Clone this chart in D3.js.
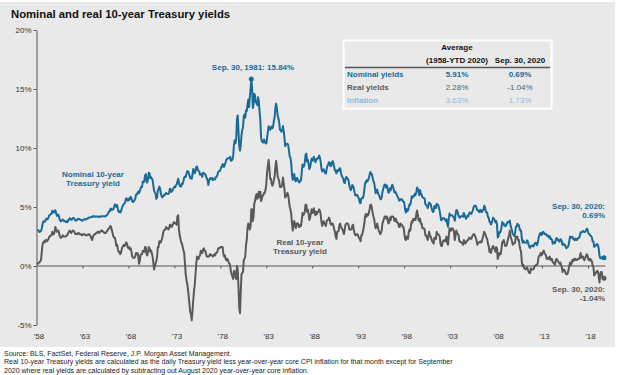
<!DOCTYPE html>
<html>
<head>
<meta charset="utf-8">
<script src="https://cdn.jsdelivr.net/npm/d3@7"></script>
<style>
  body { margin: 0; background: #fff; font-family: Arial, "Liberation Sans", sans-serif; }
</style>
</head>
<body>
<svg id="chart" width="624" height="375"></svg>
<script>
// monthly 10-year yields, Jan 1958 .. Sep 2020
const startYear = 1958;
const nominal = [
  3.09,3.05,2.98,2.88,2.92,2.97,3.20,3.54,3.76,3.80,3.74,3.86, // 1958
  4.02,3.96,3.99,4.12,4.31,4.34,4.40,4.43,4.68,4.53,4.53,4.69, // 1959
  4.72,4.49,4.25,4.28,4.35,4.15,3.90,3.80,3.80,3.89,3.93,3.84, // 1960
  3.84,3.78,3.74,3.78,3.71,3.88,3.92,4.04,3.98,3.92,3.94,4.06, // 1961
  4.08,4.04,3.93,3.84,3.87,3.91,4.01,3.98,3.98,3.93,3.92,3.86, // 1962
  3.83,3.92,3.93,3.97,3.93,3.99,4.02,4.00,4.08,4.11,4.12,4.13, // 1963
  4.17,4.15,4.22,4.23,4.20,4.17,4.19,4.19,4.20,4.19,4.15,4.18, // 1964
  4.19,4.21,4.21,4.20,4.21,4.21,4.20,4.25,4.29,4.35,4.45,4.62, // 1965
  4.61,4.83,4.87,4.75,4.78,4.81,5.02,5.22,5.18,5.01,5.16,4.84, // 1966
  4.58,4.63,4.54,4.59,4.85,5.02,5.16,5.28,5.30,5.48,5.75,5.70, // 1967
  5.53,5.56,5.74,5.64,5.87,5.72,5.50,5.42,5.46,5.58,5.70,6.03, // 1968
  6.04,6.19,6.30,6.17,6.32,6.57,6.72,6.69,7.16,7.10,7.14,7.65, // 1969
  7.79,7.24,7.07,7.39,7.91,7.84,7.46,7.53,7.39,7.33,6.84,6.39, // 1970
  6.24,6.11,5.70,5.83,6.39,6.52,6.73,6.58,6.14,5.93,5.81,5.93, // 1971
  5.95,6.08,6.07,6.19,6.13,6.11,6.11,6.21,6.55,6.48,6.28,6.36, // 1972
  6.46,6.64,6.71,6.67,6.85,6.90,7.13,7.40,7.09,6.79,6.73,6.74, // 1973
  6.99,6.96,7.21,7.51,7.58,7.54,7.81,8.04,8.04,7.90,7.68,7.43, // 1974
  7.50,7.39,7.73,8.23,8.06,7.86,8.06,8.40,8.43,8.14,8.05,8.00, // 1975
  7.74,7.79,7.73,7.56,7.90,7.86,7.83,7.77,7.59,7.41,7.29,6.87, // 1976
  7.21,7.39,7.46,7.37,7.46,7.28,7.33,7.40,7.34,7.52,7.58,7.69, // 1977
  7.96,8.03,8.04,8.15,8.35,8.46,8.64,8.41,8.42,8.64,8.81,9.01, // 1978
  9.10,9.10,9.12,9.18,9.25,8.91,8.95,9.03,9.33,10.30,10.65,10.39, // 1979
  10.80,12.41,12.75,11.47,10.18,9.78,10.25,11.10,11.51,11.75,12.68,12.84, // 1980
  12.57,13.19,13.12,13.68,14.10,13.47,14.28,14.94,15.84,15.15,13.39,13.72, // 1981
  14.59,14.43,13.86,13.87,13.62,14.30,13.95,13.06,12.34,10.91,10.55,10.54, // 1982
  10.46,10.72,10.51,10.40,10.38,10.85,11.38,11.85,11.65,11.54,11.69,11.83, // 1983
  11.67,11.84,12.32,12.63,13.41,13.76,13.36,12.72,12.52,12.16,11.57,11.50, // 1984
  11.38,11.51,11.86,11.43,10.85,10.16,10.31,10.33,10.37,10.24,9.78,9.26, // 1985
  9.19,8.70,7.78,7.30,7.71,7.80,7.30,7.17,7.45,7.43,7.25,7.11, // 1986
  7.08,7.25,7.25,8.02,8.61,8.40,8.45,8.76,9.42,9.52,8.86,8.99, // 1987
  8.67,8.21,8.37,8.72,9.09,8.92,9.06,9.26,8.98,8.80,8.96,9.11, // 1988
  9.09,9.17,9.36,9.18,8.86,8.28,8.02,8.11,8.19,8.01,7.87,7.84, // 1989
  8.21,8.47,8.59,8.79,8.76,8.48,8.47,8.75,8.89,8.72,8.39,8.08, // 1990
  8.09,7.85,8.11,8.04,8.07,8.28,8.27,7.90,7.65,7.53,7.42,7.09, // 1991
  7.03,7.34,7.54,7.48,7.39,7.26,6.84,6.59,6.42,6.59,6.87,6.77, // 1992
  6.60,6.26,5.98,5.97,6.04,5.96,5.81,5.68,5.36,5.33,5.72,5.77, // 1993
  5.75,5.97,6.48,6.97,7.18,7.10,7.30,7.24,7.46,7.74,7.96,7.81, // 1994
  7.78,7.47,7.20,7.06,6.63,6.17,6.28,6.49,6.20,6.04,5.93,5.71, // 1995
  5.65,5.81,6.27,6.51,6.74,6.91,6.87,6.64,6.83,6.53,6.20,6.30, // 1996
  6.58,6.42,6.69,6.89,6.71,6.49,6.22,6.30,6.21,6.03,5.88,5.81, // 1997
  5.54,5.57,5.65,5.64,5.65,5.50,5.46,5.34,4.81,4.53,4.83,4.65, // 1998
  4.72,5.00,5.23,5.18,5.54,5.90,5.79,5.94,5.92,6.11,6.03,6.28, // 1999
  6.66,6.52,6.26,5.99,6.44,6.10,6.05,5.83,5.80,5.74,5.72,5.24, // 2000
  5.16,5.10,4.89,5.14,5.39,5.28,5.24,4.97,4.73,4.57,4.65,5.09, // 2001
  5.04,4.91,5.28,5.21,5.16,4.93,4.65,4.26,3.87,3.94,4.05,4.03, // 2002
  4.05,3.90,3.81,3.96,3.57,3.33,3.98,4.45,4.27,4.29,4.30,4.27, // 2003
  4.15,4.08,3.83,4.35,4.72,4.73,4.50,4.28,4.13,4.10,4.19,4.23, // 2004
  4.22,4.17,4.50,4.34,4.14,4.00,4.18,4.26,4.20,4.46,4.54,4.47, // 2005
  4.42,4.57,4.72,4.99,5.11,5.11,5.09,4.88,4.72,4.73,4.60,4.56, // 2006
  4.76,4.72,4.56,4.69,4.75,5.10,5.00,4.67,4.52,4.53,4.15,4.10, // 2007
  3.74,3.74,3.51,3.68,3.88,4.10,4.01,3.89,3.69,3.81,3.53,2.42, // 2008
  2.52,2.87,2.82,2.93,3.29,3.72,3.56,3.59,3.40,3.39,3.40,3.59, // 2009
  3.73,3.69,3.73,3.85,3.42,3.20,3.01,2.70,2.65,2.54,2.76,3.29, // 2010
  3.39,3.58,3.41,3.46,3.17,3.00,3.00,2.30,1.98,2.15,2.01,1.98, // 2011
  1.97,1.97,2.17,2.05,1.80,1.62,1.53,1.68,1.72,1.75,1.65,1.72, // 2012
  1.91,1.98,1.96,1.76,1.93,2.30,2.58,2.74,2.81,2.62,2.72,2.90, // 2013
  2.86,2.71,2.72,2.71,2.56,2.60,2.54,2.42,2.53,2.30,2.33,2.21, // 2014
  1.88,1.98,2.04,1.94,2.20,2.36,2.32,2.17,2.17,2.07,2.26,2.24, // 2015
  2.09,1.78,1.89,1.81,1.81,1.64,1.50,1.56,1.63,1.76,2.14,2.49, // 2016
  2.43,2.42,2.48,2.30,2.30,2.19,2.32,2.21,2.20,2.36,2.35,2.40, // 2017
  2.58,2.86,2.84,2.87,2.98,2.91,2.89,2.89,3.00,3.15,3.12,2.83, // 2018
  2.71,2.68,2.57,2.53,2.40,2.07,2.06,1.63,1.70,1.71,1.81,1.86, // 2019
  1.76,1.50,0.87,0.66,0.67,0.73,0.62,0.65,0.69                 // 2020
];
const real = [
  0.3,0.2,0.3,0.3,0.4,0.5,1.2,1.8,2.0,2.1,2.0,2.2, // 1958
  2.2,2.1,2.2,2.3,2.5,2.5,2.6,2.6,2.9,2.7,2.7,2.9, // 1959
  3.3,3.1,2.9,2.9,3.0,2.8,2.5,2.4,2.4,2.5,2.6,2.5, // 1960
  2.5,2.5,2.5,2.6,2.6,2.8,2.9,3.0,2.9,2.8,2.9,3.0, // 1961
  3.0,2.9,2.8,2.7,2.7,2.7,2.8,2.8,2.7,2.7,2.7,2.6, // 1962
  2.6,2.7,2.7,2.7,2.6,2.6,2.6,2.6,2.7,2.7,2.6,2.5, // 1963
  2.3,2.2,2.5,2.6,2.7,2.7,2.8,2.8,2.9,2.9,2.8,2.9, // 1964
  2.9,3.0,3.0,2.9,2.9,2.8,2.8,2.8,2.9,3.0,3.1,3.2, // 1965
  3.2,3.4,3.3,3.0,2.8,2.5,2.4,2.4,2.1,1.7,1.8,1.4, // 1966
  1.2,1.2,1.0,1.1,1.4,1.6,1.7,1.8,1.7,1.8,2.0,1.9, // 1967
  1.6,1.5,1.6,1.4,1.5,1.2,0.8,0.7,0.7,0.7,0.8,1.1, // 1968
  1.0,1.1,0.9,0.2,0.4,0.9,1.0,1.0,1.3,1.2,1.2,1.6, // 1969
  1.6,1.0,0.9,1.2,1.6,1.5,1.2,1.3,1.1,0.8,0.3,-0.3, // 1970
  0.0,0.2,0.4,0.8,1.6,1.6,2.1,2.1,2.0,2.2,2.4,2.8, // 1971
  3.0,3.1,3.1,3.3,3.2,3.2,3.1,3.2,3.5,3.5,3.3,3.4, // 1972
  3.5,3.7,3.7,3.6,3.6,3.5,4.2,4.3,3.1,2.6,2.3,2.0, // 1973
  1.9,1.6,1.3,1.1,0.2,-0.7,-1.2,-1.5,-2.0,-2.6,-3.3,-3.9, // 1974
  -4.1,-4.6,-3.8,-2.9,-2.1,-1.6,-0.7,0.2,0.8,0.7,0.6,0.8, // 1975
  0.9,1.3,1.1,1.1,1.4,1.5,1.3,1.3,1.0,0.8,0.8,0.8, // 1976
  0.8,1.0,1.0,0.9,0.9,0.8,0.9,1.0,0.9,1.1,1.1,1.2, // 1977
  1.5,1.5,1.5,1.6,1.6,1.6,1.6,1.0,0.8,0.9,0.6,0.5, // 1978
  0.6,0.5,0.3,0.2,0.0,-0.5,-0.7,-0.9,-1.1,-0.4,-0.5,-0.9, // 1979
  -1.1,0.0,-0.3,-1.8,-3.5,-4.0,-2.2,-0.7,-0.6,-0.5,0.5,0.6, // 1980
  0.8,1.8,2.2,3.2,3.6,3.5,3.1,3.3,4.8,4.8,3.8,4.2, // 1981
  5.3,5.5,5.9,6.1,5.7,5.9,6.3,5.8,6.3,5.5,5.7,6.0, // 1982
  6.0,6.2,6.2,6.5,7.0,8.0,8.5,9.0,8.3,7.4,7.4,7.0, // 1983
  6.8,7.0,7.3,7.6,8.4,8.9,8.3,7.6,7.4,7.2,6.7,6.7, // 1984
  6.7,6.9,7.5,7.0,6.5,5.8,5.9,6.0,6.2,6.0,5.5,5.0, // 1985
  4.8,4.4,3.6,3.0,3.7,3.8,3.4,3.2,3.6,3.6,3.6,3.3, // 1986
  3.3,3.5,3.4,3.9,4.5,4.3,4.4,4.6,5.2,5.2,4.6,4.8, // 1987
  4.4,3.9,4.1,4.4,4.8,4.5,4.6,4.9,4.5,4.3,4.6,4.4, // 1988
  4.6,4.6,4.8,4.7,4.4,3.8,3.4,3.6,3.8,3.6,3.5,3.4, // 1989
  3.8,3.9,3.9,4.1,4.0,3.6,3.5,3.6,3.6,3.4,3.1,2.9, // 1990
  2.5,2.3,2.9,2.9,3.0,3.5,3.6,3.3,3.2,3.1,2.9,2.7, // 1991
  3.1,3.5,3.6,3.6,3.6,3.5,3.1,3.1,3.1,3.1,3.4,3.5, // 1992
  3.1,2.8,2.6,2.6,2.7,2.7,2.5,2.4,2.3,2.1,2.6,2.6, // 1993
  2.9,3.2,3.6,4.2,4.4,4.2,4.4,4.3,4.5,4.8,5.2,5.2, // 1994
  4.9,4.5,4.2,4.0,3.5,3.2,3.3,3.6,3.3,3.0,2.9,2.7, // 1995
  2.8,3.0,3.6,3.8,4.0,4.2,4.2,4.0,4.2,3.9,3.6,3.7, // 1996
  4.1,3.9,4.2,4.2,4.2,4.1,3.8,4.0,4.0,3.7,3.7,3.6, // 1997
  3.3,3.3,3.6,3.5,3.5,3.3,3.3,2.8,2.3,2.2,2.5,2.3, // 1998
  2.3,2.9,3.1,3.0,3.5,3.8,3.7,4.0,3.9,4.0,3.9,4.4, // 1999
  4.7,4.3,3.9,3.8,4.0,3.6,3.6,3.2,3.2,3.2,3.1,2.6, // 2000
  2.6,2.4,2.2,2.5,2.9,2.6,2.5,2.3,2.1,2.0,1.9,2.4, // 2001
  2.4,2.3,2.9,2.7,2.7,2.6,2.5,1.9,1.7,1.7,2.1,2.1, // 2002
  2.2,2.1,2.1,2.5,2.0,1.8,2.5,3.2,3.1,3.0,3.2,3.2, // 2003
  3.1,2.9,2.2,2.6,3.0,2.8,2.7,2.6,2.1,2.1,2.0,2.0, // 2004
  1.9,1.8,2.2,2.1,1.9,2.0,2.1,2.2,2.2,2.4,2.4,2.3, // 2005
  2.3,2.5,2.6,2.7,2.7,2.5,2.4,2.1,1.8,2.0,2.0,2.0, // 2006
  2.1,2.0,2.1,2.4,2.6,2.9,2.8,2.6,2.4,2.3,1.9,1.7, // 2007
  1.2,1.4,1.1,1.4,1.6,1.7,1.5,1.4,1.2,1.6,1.5,0.6, // 2008
  0.8,1.1,1.0,1.0,1.5,2.0,2.1,2.2,1.9,1.7,1.7,1.8, // 2009
  2.1,2.4,2.6,3.0,2.5,2.3,2.1,1.8,1.9,1.9,2.0,2.5, // 2010
  2.4,2.5,2.2,2.2,1.7,1.4,1.2,0.3,0.0,0.1,-0.2,-0.2, // 2011
  -0.3,-0.2,-0.1,-0.3,-0.5,-0.6,-0.6,-0.2,-0.3,-0.3,-0.3,-0.2, // 2012
  0.0,0.0,0.1,0.1,0.2,0.7,0.9,0.9,1.1,0.9,1.0,1.2, // 2013
  1.3,1.1,1.0,0.9,0.6,0.7,0.6,0.7,0.8,0.5,0.6,0.6, // 2014
  0.3,0.3,0.2,0.1,0.5,0.6,0.5,0.4,0.3,0.2,0.3,0.1, // 2015
  -0.1,-0.5,-0.3,-0.3,-0.4,-0.6,-0.7,-0.7,-0.6,-0.3,0.0,0.3, // 2016
  0.1,0.2,0.5,0.4,0.6,0.5,0.6,0.5,0.5,0.6,0.6,0.6, // 2017
  0.8,1.1,0.7,0.8,0.8,0.6,0.5,0.7,0.8,1.0,0.9,0.6, // 2018
  0.5,0.6,0.6,0.4,0.4,0.0,-0.1,-0.8,-0.7,-0.6,-0.5,-0.4, // 2019
  -0.5,-0.9,-1.4,-0.7,-0.5,-0.5,-1.0,-1.0,-1.04            // 2020
];

const yTicks = [-5, 0, 5, 10, 15, 20];
const xTickYears = [1958, 1963, 1968, 1973, 1978, 1983, 1988, 1993, 1998, 2003, 2008, 2013, 2018];
const xLabels = ["'58", "'63", "'68", "'73", "'78", "'83", "'88", "'93", "'98", "'03", "'08", "'13", "'18"];

const tableHead = ["Average", "(1958-YTD 2020)", "Sep. 30, 2020"];
const tableRows = ["Nominal yields", "Real yields", "Inflation"];
const avgValues = ["5.91%", "2.28%", "3.63%"];
const sepValues = ["0.69%", "-1.04%", "1.73%"];

const blue = "#1a6a98", grey = "#595959", lightBlue = "#8db9dc";

let svg = d3.select("#chart");

svg.append("rect")
   .attr("x", 0).attr("y", 2)
   .attr("width", 615).attr("height", 345)
   .attr("fill", "#e9e9e9");

let x = d3.scaleLinear().domain([1958, 2020.75]).range([36.5, 604]);   // data
let xTick = d3.scaleLinear().domain([1958, 2018]).range([36.5, 588]);  // axis ticks and labels
let y = d3.scaleLinear().domain([-5, 20]).range([325, 30]);

let monthTime = i => startYear + (i + 1) / 12;

// title
svg.append("text")
   .attr("x", 11).attr("y", 18)
   .attr("font-size", 11.3).attr("font-weight", "bold").attr("fill", "#111")
   .text("Nominal and real 10-year Treasury yields");

// y axis
let yAxis = svg.append("g")
   .attr("transform", "translate(36.5,0)")
   .call(d3.axisLeft(y).tickValues(yTicks).tickSize(3).tickSizeOuter(0).tickPadding(2)
           .tickFormat(d => d + "%"));
yAxis.select(".domain").attr("stroke", "#555");
yAxis.selectAll(".tick line").attr("stroke", "#555");
yAxis.selectAll("text").attr("font-size", 8).attr("fill", "#333")
     .attr("font-family", "Arial, 'Liberation Sans', sans-serif");

// zero line with year ticks
svg.append("line")
   .attr("x1", x(1958)).attr("x2", 605.5)
   .attr("y1", y(0)).attr("y2", y(0))
   .attr("stroke", "#555").attr("stroke-width", 1);
let zeroAxis = svg.append("g")
   .attr("transform", "translate(0," + y(0) + ")")
   .call(d3.axisBottom(xTick).tickValues(xTickYears.slice(1)).tickSize(2.5).tickFormat(""));
zeroAxis.select(".domain").remove();
zeroAxis.selectAll(".tick line").attr("stroke", "#555");

// year labels along the bottom
let xAxis = svg.append("g")
   .attr("transform", "translate(2,332)")
   .call(d3.axisBottom(xTick).tickValues(xTickYears).tickSize(0).tickPadding(1)
           .tickFormat((d, i) => xLabels[i]));
xAxis.select(".domain").remove();
xAxis.selectAll("text").attr("font-size", 8).attr("fill", "#333")
     .attr("font-family", "Arial, 'Liberation Sans', sans-serif");

// lines
let line = d3.line()
   .x((d, i) => x(monthTime(i)))
   .y(d => y(d));

svg.append("path")
   .attr("d", line(real))
   .attr("fill", "none").attr("stroke", grey)
   .attr("stroke-width", 2).attr("stroke-linejoin", "round");
svg.append("path")
   .attr("d", line(nominal))
   .attr("fill", "none").attr("stroke", blue)
   .attr("stroke-width", 2).attr("stroke-linejoin", "round");

// markers
let peakIdx = nominal.indexOf(d3.max(nominal));
let last = nominal.length - 1;
svg.append("circle").attr("cx", x(monthTime(peakIdx))).attr("cy", y(nominal[peakIdx]))
   .attr("r", 2.5).attr("fill", blue);
svg.append("circle").attr("cx", x(monthTime(last))).attr("cy", y(nominal[last]))
   .attr("r", 2.5).attr("fill", blue);
svg.append("circle").attr("cx", x(monthTime(last))).attr("cy", y(real[last]))
   .attr("r", 2.5).attr("fill", grey);

// annotations
function label(lines, px, py, anchor, color) {
  let t = svg.append("text")
     .attr("x", px).attr("y", py)
     .attr("text-anchor", anchor)
     .attr("font-size", 8).attr("font-weight", "bold").attr("fill", color);
  lines.forEach((s, i) => {
    t.append("tspan").attr("x", px).attr("dy", i === 0 ? 0 : 9.3).text(s);
  });
}
label(["Sep. 30, 1981: 15.84%"], 253, 70, "middle", blue);
label(["Nominal 10-year", "Treasury yield"], 93, 177, "middle", blue);
label(["Real 10-year", "Treasury yield"], 300, 245, "middle", grey);
label(["Sep. 30, 2020:", "0.69%"], 605, 209, "end", blue);
label(["Sep. 30, 2020:", "-1.04%"], 605, 292, "end", grey);

// summary table
let table = svg.append("g");
table.append("rect")
   .attr("x", 343.5).attr("y", 40.5).attr("width", 208).attr("height", 68)
   .attr("fill", "#e9e9e9").attr("stroke", "#fff").attr("stroke-width", 2);
table.append("text").attr("x", 457).attr("y", 50).attr("text-anchor", "middle")
   .attr("font-size", 8).attr("font-weight", "bold").attr("fill", "#111").text(tableHead[0]);
table.append("text").attr("x", 457).attr("y", 63).attr("text-anchor", "middle")
   .attr("font-size", 8).attr("font-weight", "bold").attr("fill", "#111").text(tableHead[1]);
table.append("text").attr("x", 520).attr("y", 63).attr("text-anchor", "middle")
   .attr("font-size", 8).attr("font-weight", "bold").attr("fill", "#111").text(tableHead[2]);
table.append("line")
   .attr("x1", 345).attr("x2", 550).attr("y1", 67.5).attr("y2", 67.5)
   .attr("stroke", "#555").attr("stroke-width", 1.4);

let rowColors = [blue, grey, lightBlue];
tableRows.forEach((r, i) => {
  let ry = 77 + i * 13;
  table.append("text").attr("x", 347).attr("y", ry)
     .attr("font-size", 8).attr("font-weight", "bold").attr("fill", rowColors[i]).text(r);
  table.append("text").attr("x", 457).attr("y", ry).attr("text-anchor", "middle")
     .attr("font-size", 8).attr("font-weight", i === 0 ? "bold" : "normal")
     .attr("fill", rowColors[i]).text(avgValues[i]);
  table.append("text").attr("x", 520).attr("y", ry).attr("text-anchor", "middle")
     .attr("font-size", 8).attr("font-weight", i === 0 ? "bold" : "normal")
     .attr("fill", rowColors[i]).text(sepValues[i]);
});

// footnotes
const notes = [
  "Source: BLS, FactSet, Federal Reserve, J.P. Morgan Asset Management.",
  "Real 10-year Treasury yields are calculated as the daily Treasury yield less year-over-year core CPI inflation for that month except for September",
  "2020 where real yields are calculated by subtracting out August 2020 year-over-year core inflation."
];
notes.forEach((n, i) => {
  svg.append("text")
     .attr("x", 4).attr("y", 355.5 + i * 8.8)
     .attr("font-size", 7).attr("fill", "#222")
     .text(n);
});
</script>
</body>
</html>
